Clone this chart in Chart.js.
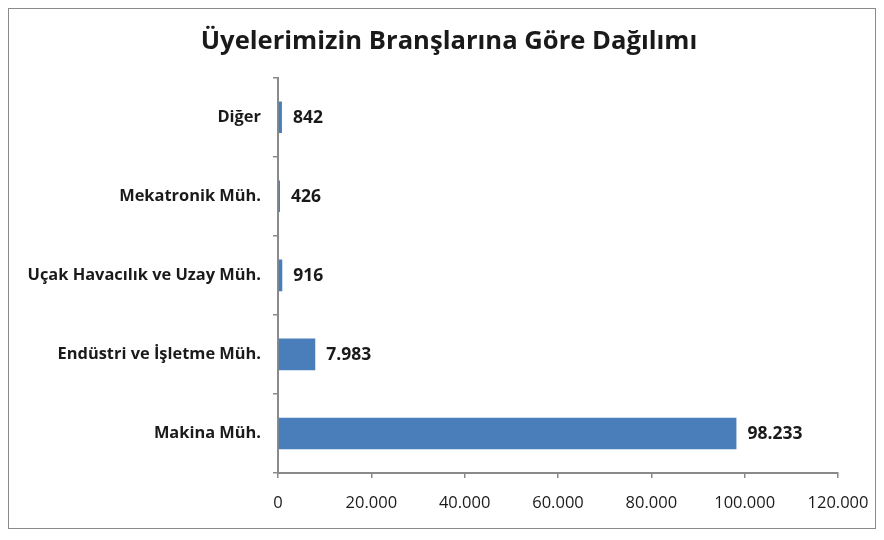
<!DOCTYPE html>
<html lang="tr">
<head>
<meta charset="UTF-8">
<title>Üyelerimizin Branşlarına Göre Dağılımı</title>
<script src="https://cdn.jsdelivr.net/npm/chart.js"></script>
<style>
  body { margin: 0; background: #fff; }
  .chartBox {
    position: absolute;
    left: 8px; top: 8px;
    width: 866px; height: 519px;
    border: 1px solid #8a8a8a;
  }
</style>
</head>
<body>
<div class="chartBox"><canvas id="myChart"></canvas></div>
<script>
  // data
  const branches = ['Diğer', 'Mekatronik Müh.', 'Uçak Havacılık ve Uzay Müh.', 'Endüstri ve İşletme Müh.', 'Makina Müh.'];
  const members = [842, 426, 916, 7983, 98233];
  const xTicks = [0, 20000, 40000, 60000, 80000, 100000, 120000];

  function trNum(v) {
    return String(Math.round(v)).replace(/\B(?=(\d{3})+(?!\d))/g, '.');
  }

  const FONT = '"Open Sans", sans-serif';

  // value labels next to the bars
  const valueLabels = {
    id: 'valueLabels',
    afterDatasetsDraw(chart) {
      const ctx = chart.ctx;
      const meta = chart.getDatasetMeta(0);
      ctx.save();
      ctx.font = 'bold 17.5px ' + FONT;
      ctx.fillStyle = '#1a1a1a';
      ctx.textBaseline = 'middle';
      meta.data.forEach((bar, i) => {
        ctx.fillText(trNum(members[i]), bar.x + 11, bar.y + 1);
      });
      ctx.restore();
    }
  };

  const config = {
    type: 'bar',
    data: {
      labels: branches,
      datasets: [{
        data: members,
        backgroundColor: '#4a7ebb',
        categoryPercentage: 1,
        barPercentage: 0.4
      }]
    },
    options: {
      indexAxis: 'y',
      responsive: true,
      maintainAspectRatio: false,
      animation: false,
      layout: { padding: { left: 14, right: 0, top: 0, bottom: 0 } },
      plugins: {
        legend: { display: false },
        tooltip: { enabled: false },
        title: {
          display: true,
          text: 'Üyelerimizin Branşlarına Göre Dağılımı',
          color: '#1a1a1a',
          font: { family: FONT, size: 25.6, weight: 'bold' },
          padding: { top: 17, bottom: 21 }
        }
      },
      scales: {
        x: {
          min: 0,
          max: 120000,
          afterBuildTicks(scale) { scale.ticks = xTicks.map(v => ({ value: v })); },
          afterFit(scale) {
            scale.height = 55;
            scale.paddingLeft = 0;
            scale.paddingRight = 37;
          },
          ticks: {
            color: '#1a1a1a',
            font: { family: FONT, size: 16.5 },
            padding: 15,
            callback: v => trNum(v)
          },
          grid: { drawOnChartArea: false, drawTicks: true, tickLength: 5, color: '#8a8a8a', lineWidth: 1.5 },
          border: { color: '#8a8a8a', width: 2 }
        },
        y: {
          afterFit(scale) { scale.width = 255; },
          ticks: {
            color: '#1a1a1a',
            font: { family: FONT, size: 16.4, weight: 'bold' },
            padding: 12
          },
          grid: { drawOnChartArea: false, drawTicks: true, tickLength: 5, color: '#8a8a8a', lineWidth: 1.5, offset: true },
          border: { color: '#8a8a8a', width: 2 }
        }
      }
    },
    plugins: [valueLabels]
  };

  const myChart = new Chart(document.getElementById('myChart'), config);
</script>
</body>
</html>
